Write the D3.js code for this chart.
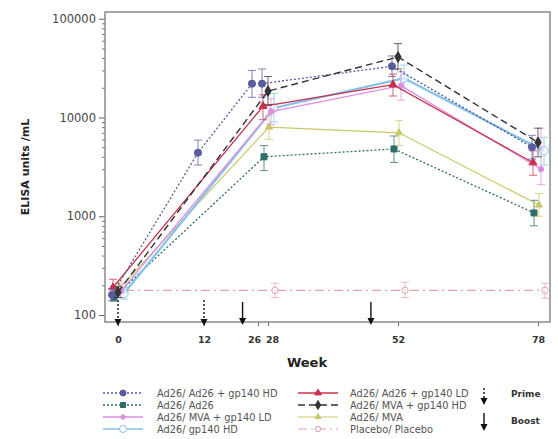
<!DOCTYPE html>
<html>
<head>
<meta charset="utf-8">
<script src="https://cdnjs.cloudflare.com/ajax/libs/d3/7.8.5/d3.min.js"></script>
<style>
  body { margin: 0; background: #fff; }
  svg { font-family: "DejaVu Sans", Verdana, sans-serif; }
</style>
</head>
<body>
<div id="chart"></div>
<script>
// ---- data ----
var groups = ["Ad26/ Ad26 + gp140 HD", "Ad26/ Ad26", "Ad26/ MVA + gp140 LD", "Ad26/ gp140 HD",
              "Ad26/ Ad26 + gp140 LD", "Ad26/ MVA + gp140 HD", "Ad26/ MVA", "Placebo/ Placebo"];

var weeksHD = [0, 12, 26, 28, 52, 78];
var weeksStd = [0, 28, 52, 78];

var geoMean = [
  [160, 4400, 22000, 22000, 33000, 5000],
  [152, 4000, 4800, 1080],
  [175, 11500, 21000, 3000],
  [165, 12500, 25000, 4600],
  [190, 13000, 21500, 3500],
  [170, 18500, 41000, 5600],
  [185, 8000, 7000, 1300],
  [178, 178, 178, 178]
];
var ciLow = [
  [140, 3300, 16000, 16000, 26000, 3800],
  [138, 2900, 3500, 800],
  [150, 8500, 15000, 2100],
  [145, 9000, 19000, 3300],
  [160, 9500, 16500, 2600],
  [150, 13500, 31000, 4000],
  [160, 6000, 5200, 1000],
  [178, 150, 150, 148]
];
var ciHigh = [
  [185, 5900, 30000, 31000, 42000, 6600],
  [168, 5200, 6500, 1450],
  [205, 15500, 29000, 7800],
  [190, 17500, 34000, 6300],
  [230, 17000, 27500, 4600],
  [195, 26000, 56000, 7800],
  [215, 10500, 9300, 1700],
  [178, 210, 215, 210]
];

var xTicks = [0, 12, 26, 28, 52, 78];
var yTicks = [100, 1000, 10000, 100000];
var primeWeeks = [0, 12];
var boostWeeks = [22, 47];

// ---- styles ----
var colors = ["#5a5a9e", "#2c6e68", "#dd8fe0", "#86c3ea", "#c8324e", "#333333", "#c9c96a", "#e6a2ac"];
var dashes = ["2,2", "2,2", null, null, null, "7,4", null, "9,4,2,4"];
var widths = [1.3, 1.3, 1.3, 2.2, 1.3, 1.4, 1.2, 1.2];
var shapes = [d3.symbolCircle, d3.symbolSquare, d3.symbolCircle, d3.symbolCircle,
              d3.symbolTriangle, d3.symbolDiamond, d3.symbolTriangle, d3.symbolCircle];
var sizes = [40, 36, 22, 55, 28, 34, 22, 32];
var hollow = [false, false, false, true, false, false, false, true];
var dodge = [-6, -4, 3, 6, -5, 0, 1, 7];

var svgWidth = 558;
var svgHeight = 439;
var margin = { top: 12, right: 8, bottom: 117, left: 105 };
var width = svgWidth - margin.left - margin.right;
var height = svgHeight - margin.top - margin.bottom;

var svg = d3.select("#chart").append("svg").attr("width", svgWidth).attr("height", svgHeight);
var chartGroup = svg.append("g").attr("transform", `translate(${margin.left}, ${margin.top})`);

var xScale = d3.scaleLinear()
  .domain(xTicks)
  .range([13, 99, 153, 163, 293, 433]);

var yScale = d3.scaleLog()
  .domain([85, 117000])
  .range([height, 0]);

// minor y ticks
var minorTicks = [];
[100, 1000, 10000].forEach(function(dec) {
  for (var k = 2; k <= 9; k++) minorTicks.push(dec * k);
});

chartGroup.append("g")
  .call(d3.axisLeft(yScale).tickValues(minorTicks).tickSize(3).tickFormat(""))
  .call(g => g.select(".domain").remove())
  .selectAll("line").attr("stroke", "#777");

var yAxis = chartGroup.append("g")
  .call(d3.axisLeft(yScale).tickValues(yTicks).tickSize(6).tickPadding(3).tickFormat(d3.format("d")));
yAxis.select(".domain").remove();
yAxis.selectAll("line").attr("stroke", "#666");
yAxis.selectAll("text").attr("font-size", 11.5).attr("fill", "#444").attr("font-family", "DejaVu Sans");

var xAxis = chartGroup.append("g")
  .attr("transform", `translate(0, ${height})`)
  .call(d3.axisBottom(xScale).tickValues(xTicks).tickSize(4).tickPadding(10).tickFormat(d3.format("d")));
xAxis.select(".domain").remove();
xAxis.selectAll("line").attr("stroke", "#666");
xAxis.selectAll("text").attr("font-size", 9.5).attr("font-weight", "bold").attr("fill", "#333")
  .attr("font-family", "DejaVu Sans")
  .attr("dx", d => d === 26 ? -4 : d === 28 ? 4 : 0);

// frame
chartGroup.append("rect")
  .attr("width", width).attr("height", height)
  .attr("fill", "none").attr("stroke", "#8a8a8a").attr("stroke-width", 1.5);

// series
var series = groups.map(function(name, i) {
  var wk = i === 0 ? weeksHD : weeksStd;
  return {
    name: name, i: i,
    pts: wk.map(function(w, j) {
      return { week: w, v: geoMean[i][j], lo: ciLow[i][j], hi: ciHigh[i][j] };
    })
  };
});

var line = d3.line()
  .x(d => xScale(d.week))
  .y(d => yScale(d.v));

var drawOrder = [7, 1, 6, 3, 2, 4, 0, 5];

drawOrder.forEach(function(i) {
  var s = series[i];
  var g = chartGroup.append("g").attr("transform", `translate(${dodge[i]}, 0)`);

  // error bars
  var eb = g.selectAll(".eb").data(s.pts.filter(d => d.hi > d.lo)).enter().append("g")
    .attr("stroke", colors[i]).attr("stroke-width", 1).attr("opacity", 0.75);
  eb.append("line")
    .attr("x1", d => xScale(d.week)).attr("x2", d => xScale(d.week))
    .attr("y1", d => yScale(d.lo)).attr("y2", d => yScale(d.hi));
  eb.append("line")
    .attr("x1", d => xScale(d.week) - 4).attr("x2", d => xScale(d.week) + 4)
    .attr("y1", d => yScale(d.lo)).attr("y2", d => yScale(d.lo));
  eb.append("line")
    .attr("x1", d => xScale(d.week) - 4).attr("x2", d => xScale(d.week) + 4)
    .attr("y1", d => yScale(d.hi)).attr("y2", d => yScale(d.hi));

  g.append("path")
    .datum(s.pts)
    .attr("d", line)
    .attr("fill", "none")
    .attr("stroke", colors[i])
    .attr("stroke-width", widths[i])
    .attr("stroke-dasharray", dashes[i]);

  g.selectAll(".pt").data(s.pts).enter().append("path")
    .attr("transform", d => `translate(${xScale(d.week)}, ${yScale(d.v)})`)
    .attr("d", d3.symbol().type(shapes[i]).size(sizes[i]))
    .attr("fill", hollow[i] ? "#fff" : colors[i])
    .attr("fill-opacity", hollow[i] ? 0.6 : 1)
    .attr("stroke", colors[i])
    .attr("stroke-width", 1);
});

// vaccination arrows
function drawArrow(g, x, y0, y1, dashed) {
  g.append("line")
    .attr("x1", x).attr("x2", x).attr("y1", y0).attr("y2", y1 - 5)
    .attr("stroke", "#111").attr("stroke-width", 1.4)
    .attr("stroke-dasharray", dashed ? "2,2" : null);
  g.append("path")
    .attr("d", `M${x - 3.5},${y1 - 6} L${x + 3.5},${y1 - 6} L${x},${y1 + 1} Z`)
    .attr("fill", "#111");
}

primeWeeks.forEach(w => drawArrow(chartGroup, xScale(w), height - 22, height + 3, true));
boostWeeks.forEach(w => drawArrow(chartGroup, xScale(w), height - 20, height + 2, false));

// axis titles
svg.append("text")
  .attr("x", 307).attr("y", 367)
  .attr("text-anchor", "middle")
  .attr("font-size", 13).attr("font-weight", "bold").attr("fill", "#222")
  .text("Week");

svg.append("text")
  .attr("transform", "rotate(-90)")
  .attr("x", -167).attr("y", 29)
  .attr("text-anchor", "middle")
  .attr("font-size", 11).attr("font-weight", "bold").attr("fill", "#222")
  .text("ELISA units /mL");

// legend
var legendOrder = [0, 4, 1, 5, 2, 6, 3, 7];
var legend = svg.append("g");
legendOrder.forEach(function(i, k) {
  var col = k % 2, row = Math.floor(k / 2);
  var lx = col === 0 ? 103 : 298;
  var ly = 393 + row * 12;
  var item = legend.append("g").attr("transform", `translate(${lx}, ${ly})`);
  item.append("line")
    .attr("x1", 0).attr("x2", 40).attr("y1", 0).attr("y2", 0)
    .attr("stroke", colors[i]).attr("stroke-width", Math.min(widths[i], 1.6))
    .attr("stroke-dasharray", dashes[i]);
  item.append("path")
    .attr("transform", "translate(20, 0)")
    .attr("d", d3.symbol().type(shapes[i]).size(sizes[i] * 0.7))
    .attr("fill", hollow[i] ? "#fff" : colors[i])
    .attr("stroke", colors[i]);
  item.append("text")
    .attr("x", col === 0 ? 54 : 52).attr("y", 3.5)
    .attr("font-size", 9.8).attr("fill", "#555")
    .text(groups[i]);
});

drawArrow(legend, 484, 388, 404, true);
drawArrow(legend, 484, 413, 430, false);
legend.append("text").attr("x", 511).attr("y", 397)
  .attr("font-size", 9).attr("font-weight", "bold").attr("fill", "#333").text("Prime");
legend.append("text").attr("x", 511).attr("y", 424)
  .attr("font-size", 9).attr("font-weight", "bold").attr("fill", "#333").text("Boost");
</script>
</body>
</html>
